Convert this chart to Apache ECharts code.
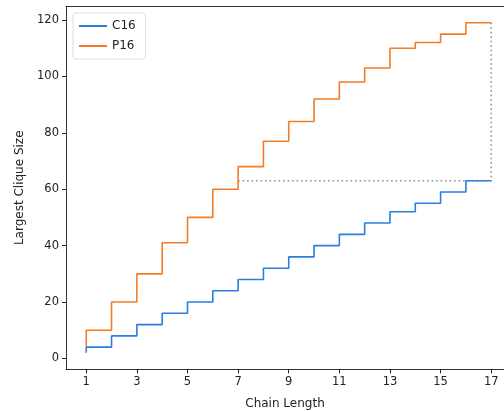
<!DOCTYPE html>
<html>
<head>
<meta charset="utf-8">
<script src="https://cdn.jsdelivr.net/npm/echarts@6/dist/echarts.min.js"></script>
<style>html,body{margin:0;padding:0;background:#fff;}#c{width:504px;height:411px;}</style>
</head>
<body>
<div id="c"></div>
<script>
const chainLength = [1,2,3,4,5,6,7,8,9,10,11,12,13,14,15,16,17];
const c16 = [2,4,8,12,16,20,24,28,32,36,40,44,48,52,55,59,63];
const p16 = [4,10,20,30,41,50,60,68,77,84,92,98,103,110,112,115,119];
const refX = [7,17,17];
const refY = [63,63,119];
const xTicks = [1,3,5,7,9,11,13,15,17];
const yTicks = [0,20,40,60,80,100,120];

const font = 'DejaVu Sans';
const chart = echarts.init(document.getElementById('c'), null, {renderer:'canvas'});
const axisCommon = {
  axisLine:{show:true,onZero:false,lineStyle:{color:'#333',width:1}},
  splitLine:{show:false},
  axisTick:{show:true,length:4,lineStyle:{color:'#222',width:1}},
  axisLabel:{color:'#222',fontFamily:font,fontSize:11.5}
};
chart.setOption({
  animation:false,
  backgroundColor:'#fff',
  grid:{left:66,top:6.3,right:0,height:363,containLabel:false,outerBoundsMode:'none',show:false},
  legend:{
    left:73,top:13,orient:'vertical',
    data:['C16','P16'],
    itemWidth:28,itemHeight:2,itemGap:8,
    icon:'rect',
    padding:[7,10,7,6],
    backgroundColor:'rgba(255,255,255,0.8)',
    borderColor:'#ddd',borderWidth:1,borderRadius:3,
    textStyle:{fontFamily:font,fontSize:12,color:'#222'}
  },
  xAxis:[Object.assign({}, axisCommon, {
    type:'value',min:0.2,max:17.505,
    name:'Chain Length',nameLocation:'middle',nameGap:29,
    nameTextStyle:{fontFamily:font,fontSize:12,color:'#222'},
    axisTick:Object.assign({}, axisCommon.axisTick, {customValues:xTicks}),
    axisLabel:Object.assign({}, axisCommon.axisLabel, {customValues:xTicks,margin:7})
  }),{
    type:'value',position:'top',min:0.2,max:17.505,
    axisLine:{show:true,onZero:false,lineStyle:{color:'#333',width:1}},
    axisTick:{show:false},axisLabel:{show:false},splitLine:{show:false}
  }],
  yAxis:Object.assign({}, axisCommon, {
    type:'value',min:-3.85,max:124.85,
    name:'Largest Clique Size',nameLocation:'middle',nameGap:39,
    nameTextStyle:{fontFamily:font,fontSize:12,color:'#222'},
    axisTick:Object.assign({}, axisCommon.axisTick, {customValues:yTicks}),
    axisLabel:Object.assign({}, axisCommon.axisLabel, {customValues:yTicks,margin:7})
  }),
  series:[
    {name:'ref',type:'line',data:refX.map((x,i)=>[x,refY[i]]),symbol:'none',
     lineStyle:{color:'#8a8a8a',width:1.5,type:[1.5,3]},silent:true,z:1},
    {name:'C16',type:'line',step:'start',data:chainLength.map((x,i)=>[x,c16[i]]),symbol:'none',
     itemStyle:{color:'#2a7de1'},lineStyle:{color:'#2a7de1',width:1.6},z:2},
    {name:'P16',type:'line',step:'start',data:chainLength.map((x,i)=>[x,p16[i]]),symbol:'none',
     itemStyle:{color:'#f47c28'},lineStyle:{color:'#f47c28',width:1.6},z:3}
  ]
});
</script>
</body>
</html>
